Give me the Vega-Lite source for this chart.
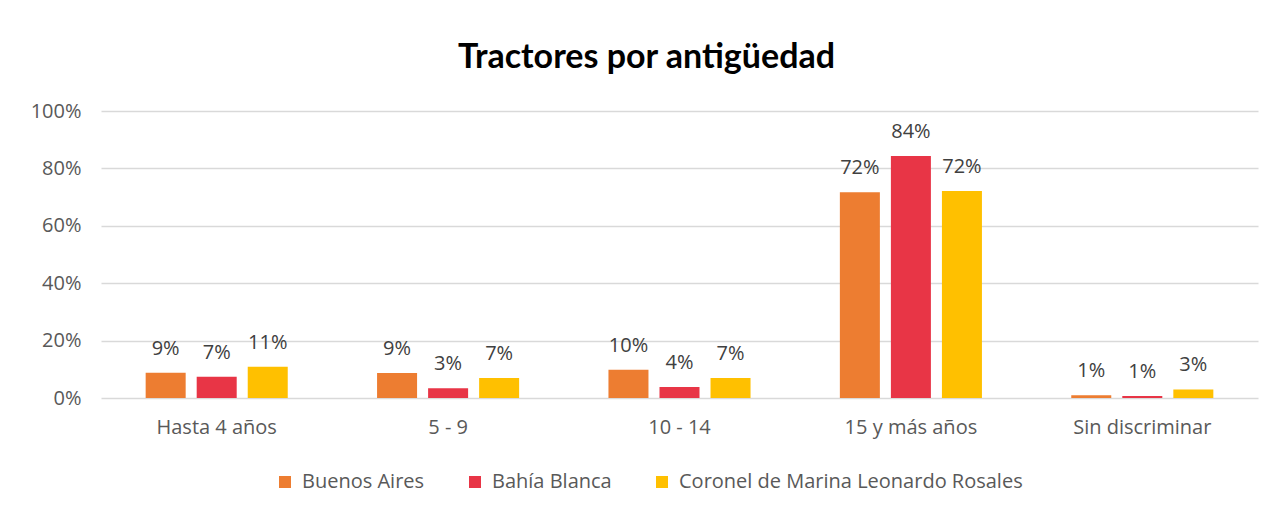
{
  "$schema": "https://vega.github.io/schema/vega-lite/v6.json",
  "width": 1157,
  "height": 287,
  "autosize": {"type": "none"},
  "padding": {"left": 101, "top": 111, "right": 21, "bottom": 116},
  "background": "white",
  "title": {
    "text": "Tractores por antigüedad",
    "font": "Lato",
    "fontSize": 34,
    "fontWeight": "bold",
    "color": "#000000",
    "anchor": "middle",
    "dx": -33,
    "offset": 26
  },
  "data": {
    "values": [
      {"cat": "Hasta 4 años", "serie": "Buenos Aires", "v": 0.088},
      {"cat": "Hasta 4 años", "serie": "Bahía Blanca", "v": 0.074},
      {"cat": "Hasta 4 años", "serie": "Coronel de Marina Leonardo Rosales", "v": 0.109},
      {"cat": "5 - 9", "serie": "Buenos Aires", "v": 0.087},
      {"cat": "5 - 9", "serie": "Bahía Blanca", "v": 0.034},
      {"cat": "5 - 9", "serie": "Coronel de Marina Leonardo Rosales", "v": 0.070},
      {"cat": "10 - 14", "serie": "Buenos Aires", "v": 0.098},
      {"cat": "10 - 14", "serie": "Bahía Blanca", "v": 0.038},
      {"cat": "10 - 14", "serie": "Coronel de Marina Leonardo Rosales", "v": 0.070},
      {"cat": "15 y más años", "serie": "Buenos Aires", "v": 0.717},
      {"cat": "15 y más años", "serie": "Bahía Blanca", "v": 0.843},
      {"cat": "15 y más años", "serie": "Coronel de Marina Leonardo Rosales", "v": 0.721},
      {"cat": "Sin discriminar", "serie": "Buenos Aires", "v": 0.010},
      {"cat": "Sin discriminar", "serie": "Bahía Blanca", "v": 0.007},
      {"cat": "Sin discriminar", "serie": "Coronel de Marina Leonardo Rosales", "v": 0.030}
    ]
  },
  "encoding": {
    "x": {
      "field": "cat",
      "type": "nominal",
      "sort": null,
      "scale": {"paddingInner": 0.386, "paddingOuter": 0.193},
      "axis": {
        "title": null,
        "labelAngle": 0,
        "labelFont": "Open Sans",
        "labelFontSize": 20,
        "labelColor": "#595959",
        "labelPadding": 19,
        "ticks": false,
        "domain": false,
        "grid": false
      }
    },
    "xOffset": {
      "field": "serie",
      "type": "nominal",
      "sort": ["Buenos Aires", "Bahía Blanca", "Coronel de Marina Leonardo Rosales"],
      "scale": {"paddingInner": 0.216, "paddingOuter": 0}
    },
    "y": {
      "field": "v",
      "type": "quantitative",
      "scale": {"domain": [0, 1], "nice": false},
      "axis": {
        "title": null,
        "format": ".0%",
        "values": [0, 0.2, 0.4, 0.6, 0.8, 1],
        "labelFont": "Open Sans",
        "labelFontSize": 20,
        "labelColor": "#595959",
        "labelPadding": 20,
        "ticks": false,
        "domain": false,
        "grid": true,
        "gridColor": "#D9D9D9",
        "gridWidth": 1.5
      }
    }
  },
  "layer": [
    {
      "mark": {"type": "bar"},
      "encoding": {
        "color": {
          "field": "serie",
          "type": "nominal",
          "sort": ["Buenos Aires", "Bahía Blanca", "Coronel de Marina Leonardo Rosales"],
          "scale": {
            "domain": ["Buenos Aires", "Bahía Blanca", "Coronel de Marina Leonardo Rosales"],
            "range": ["#ED7D31", "#E83546", "#FFC000"]
          },
          "legend": {
            "title": null,
            "orient": "none",
            "direction": "horizontal",
            "legendX": 174,
            "legendY": 361,
            "symbolType": "square",
            "symbolSize": 144,
            "symbolStrokeWidth": 0,
            "labelFont": "Open Sans",
            "labelFontSize": 20,
            "labelColor": "#595959",
            "labelOffset": 7,
            "labelLimit": 500,
            "columnPadding": 40
          }
        }
      }
    },
    {
      "mark": {
        "type": "text",
        "baseline": "middle",
        "dy": -24,
        "font": "Open Sans",
        "fontSize": 20,
        "color": "#404040"
      },
      "encoding": {
        "text": {"field": "v", "type": "quantitative", "format": ".0%"}
      }
    }
  ],
  "config": {
    "view": {"stroke": null}
  }
}
